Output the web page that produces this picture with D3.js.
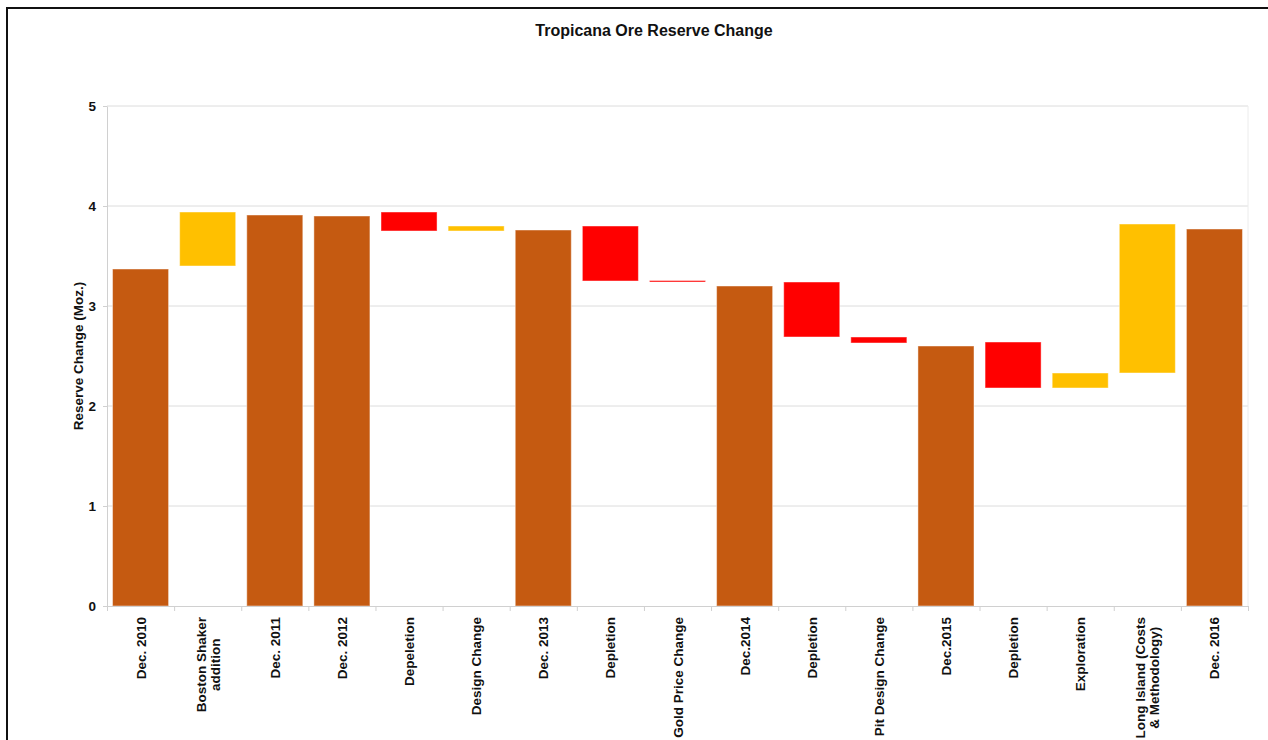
<!DOCTYPE html>
<meta charset="utf-8">
<style type="text/css">
  body { margin: 0; background: #fff; }
  text { font-family: "Liberation Sans", Arial, sans-serif; fill: #111; }
  .grid line { stroke: #dcdcdc; stroke-width: 1; }
  .axis path, .axis line { stroke: #d0d0d0; }
  .axis text { font-weight: bold; font-size: 13.5px; fill: #111; }
  .bar { stroke: #ffffff; stroke-opacity: 0.45; stroke-width: 1; }
</style>
<body>
</body>
<script src="https://d3js.org/d3.v7.min.js"></script>
<script>
  // waterfall: each bar runs from low to high, kind sets the colour
  var categories = ["Dec. 2010", "Boston Shaker\naddition", "Dec. 2011", "Dec. 2012", "Depeletion",
    "Design Change", "Dec. 2013", "Depletion", "Gold Price Change", "Dec.2014", "Depletion",
    "Pit Design Change", "Dec.2015", "Depletion", "Exploration", "Long Island (Costs\n& Methodology)", "Dec. 2016"];
  var lows  = [0, 3.40, 0, 0, 3.75, 3.75, 0, 3.25, 3.24, 0, 2.69, 2.63, 0, 2.18, 2.18, 2.33, 0];
  var highs = [3.37, 3.94, 3.91, 3.90, 3.94, 3.80, 3.76, 3.80, 3.255, 3.20, 3.24, 2.69, 2.60, 2.64, 2.33, 3.82, 3.77];
  var kinds = ["total", "increase", "total", "total", "decrease", "increase", "total", "decrease", "decrease",
    "total", "decrease", "decrease", "total", "decrease", "increase", "increase", "total"];
  var yTicks = [0, 1, 2, 3, 4, 5];

  var colors = { total: "#C55A11", increase: "#FFC000", decrease: "#FF0000" };

  var W = 1268, H = 740;
  var margin = { top: 106, left: 107 },
    width = 1141,
    height = 500;

  var data = categories.map(function(c, i) {
    return { name: c, low: lows[i], high: highs[i], kind: kinds[i] };
  });

  var svgRoot = d3.select("body").append("svg")
    .attr("width", W)
    .attr("height", H);

  // outer frame
  svgRoot.append("rect")
    .attr("x", 7).attr("y", 8)
    .attr("width", W + 20).attr("height", H + 20)
    .attr("fill", "none")
    .attr("stroke", "#111")
    .attr("stroke-width", 2);

  svgRoot.append("text")
    .attr("x", 654).attr("y", 36)
    .attr("text-anchor", "middle")
    .style("font-size", "16px")
    .style("font-weight", "bold")
    .text("Tropicana Ore Reserve Change");

  var svg = svgRoot.append("g")
    .attr("transform", "translate(" + margin.left + "," + margin.top + ")");

  var x = d3.scaleBand()
    .domain(d3.range(categories.length))
    .range([0, width])
    .paddingInner(0.165)
    .paddingOuter(0.0825);

  var xEdge = d3.scaleLinear()
    .domain([0, categories.length])
    .range([0, width]);

  var y = d3.scaleLinear()
    .domain([0, 5])
    .range([height, 0]);

  // grid
  svg.append("g")
    .attr("class", "grid")
    .selectAll("line")
    .data(yTicks.slice(1))
    .enter().append("line")
    .attr("x1", 0).attr("x2", width)
    .attr("y1", function(d) { return y(d); })
    .attr("y2", function(d) { return y(d); });

  svg.append("line")
    .attr("x1", width).attr("x2", width)
    .attr("y1", 0).attr("y2", height)
    .attr("stroke", "#ececec");

  // y axis
  svg.append("g")
    .attr("class", "axis")
    .call(d3.axisLeft(y).tickValues(yTicks).tickFormat(d3.format("d"))
      .tickSize(4).tickPadding(7).tickSizeOuter(0));

  svg.append("text")
    .attr("transform", "translate(-24," + (height / 2) + ") rotate(-90)")
    .attr("text-anchor", "middle")
    .style("font-size", "13.5px")
    .style("font-weight", "bold")
    .text("Reserve Change (Moz.)");

  // bars
  svg.selectAll(".bar")
    .data(data)
    .enter().append("rect")
    .attr("class", "bar")
    .attr("x", function(d, i) { return x(i); })
    .attr("width", x.bandwidth())
    .attr("y", function(d) { return y(d.high); })
    .attr("height", function(d) { return Math.max(1.5, y(d.low) - y(d.high)); })
    .attr("fill", function(d) { return colors[d.kind]; });

  // x axis with ticks at the category boundaries
  svg.append("g")
    .attr("class", "axis")
    .attr("transform", "translate(0," + height + ")")
    .call(d3.axisBottom(xEdge).tickValues(d3.range(categories.length + 1)).tickFormat("").tickSize(5).tickSizeOuter(0));

  // rotated category labels, multi-line ones centred on each other
  var labels = svg.append("g")
    .selectAll("g")
    .data(data)
    .enter().append("g")
    .attr("transform", function(d, i) {
      return "translate(" + (x(i) + x.bandwidth() / 2) + "," + (height + 11) + ") rotate(-90)";
    });

  labels.each(function(d) {
    var g = d3.select(this);
    var lines = d.name.split("\n");
    var texts = lines.map(function(l, k) {
      return g.append("text")
        .style("font-size", "13.5px")
        .style("font-weight", "bold")
        .attr("dy", ((k - (lines.length - 1) / 2) * 14 + 5) + "px")
        .text(l);
    });
    var maxW = d3.max(texts, function(t) { return t.node().getComputedTextLength(); });
    texts.forEach(function(t) {
      t.attr("text-anchor", "middle").attr("x", -maxW / 2);
    });
  });
</script>
